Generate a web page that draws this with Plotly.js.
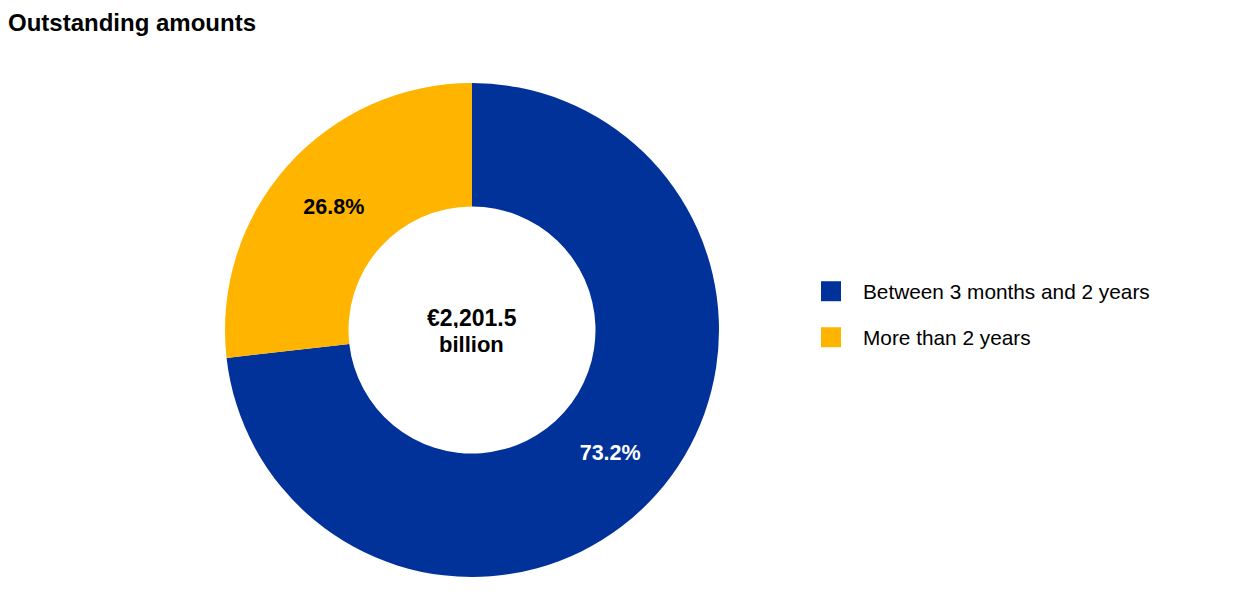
<!DOCTYPE html>
<html>
<head>
<meta charset="utf-8">
<script src="https://cdn.plot.ly/plotly-3.0.1.min.js"></script>
<style>
  html, body { margin: 0; padding: 0; background: #ffffff; }
  #chart { width: 1240px; height: 596px; }
</style>
</head>
<body>
<div id="chart"></div>
<script>
// ---- data ----
const chartTitle = "Outstanding amounts";
const categories = ["Between 3 months and 2 years", "More than 2 years"];
const shares = [73.2, 26.8];           // per cent of outstanding amounts
const totalAmount = 2201.5;            // EUR billion
const totalUnit = "billion";
const sliceColors = ["#003299", "#FFB400"];
const labelColors = ["#ffffff", "#000000"];

const FONT = "Liberation Sans, Arial, Helvetica, sans-serif";

const totalText = "€" + totalAmount.toLocaleString("en-US", {minimumFractionDigits: 1, maximumFractionDigits: 1});

const data = [{
  type: "pie",
  labels: categories,
  values: shares,
  sort: false,
  direction: "clockwise",
  rotation: 0,
  hole: 0.5,
  domain: {x: [225 / 1240, 719 / 1240], y: [0, 1]},
  marker: {colors: sliceColors, line: {width: 0}},
  textinfo: "text",
  texttemplate: "%{value:.1f}%",
  textposition: "inside",
  insidetextorientation: "horizontal",
  insidetextfont: {family: FONT, size: 21.5, color: labelColors, weight: "bold"},
  hoverinfo: "skip",
  showlegend: true
}];

const layout = {
  width: 1240,
  height: 596,
  margin: {l: 0, r: 0, t: 83, b: 19, pad: 0},
  paper_bgcolor: "#ffffff",
  plot_bgcolor: "#ffffff",
  font: {family: FONT, color: "#000000"},
  title: {
    text: chartTitle,
    font: {family: FONT, size: 24, color: "#000000", weight: "bold"},
    xref: "container", yref: "container",
    x: 8 / 1240, xanchor: "left",
    y: 1 - 23 / 596, yanchor: "middle"
  },
  showlegend: true,
  legend: {
    x: 799 / 1240, xanchor: "left",
    y: 1 - (271.2 - 83) / 494, yanchor: "top",
    bgcolor: "rgba(0,0,0,0)",
    borderwidth: 0,
    itemwidth: 54,
    itemclick: false,
    font: {family: FONT, size: 20.8, color: "#000000"}
  },
  annotations: [
    {
      text: totalText,
      xref: "paper", yref: "paper",
      x: 472 / 1240, y: 1 - (318 - 83) / 494,
      xanchor: "center", yanchor: "middle",
      height: 20,
      showarrow: false,
      font: {family: FONT, size: 23, color: "#000000", weight: "bold"}
    },
    {
      text: totalUnit,
      xref: "paper", yref: "paper",
      x: 472 / 1240, y: 1 - (344 - 83) / 494,
      xanchor: "center", yanchor: "middle",
      height: 20,
      showarrow: false,
      font: {family: FONT, size: 22, color: "#000000", weight: "bold"}
    }
  ]
};

Plotly.newPlot("chart", data, layout, {displayModeBar: false, staticPlot: true}).then(function (gd) {
  // enlarge the legend swatches and open up the spacing between legend rows
  const half = 10;
  gd.querySelectorAll(".legend .legendpie").forEach(function (p) {
    p.setAttribute("d", "M" + half + "," + half + "H-" + half + "V-" + half + "H" + half + "Z");
  });
  gd.querySelectorAll(".legend .scrollbox").forEach(function (s) { s.removeAttribute("clip-path"); });
  gd.querySelectorAll(".legend").forEach(function (s) { s.removeAttribute("clip-path"); });
  const rowGap = 46;
  let y0 = null;
  gd.querySelectorAll(".legend .traces").forEach(function (g, i) {
    const t = g.getAttribute("transform") || "";
    const m = /translate\(\s*([-\d.e]+)[ ,]+([-\d.e]+)\s*\)/.exec(t);
    if (m) {
      if (y0 === null) y0 = parseFloat(m[2]);
      g.setAttribute("transform", "translate(" + m[1] + "," + (y0 + i * rowGap) + ")");
    }
  });
});
</script>
</body>
</html>
